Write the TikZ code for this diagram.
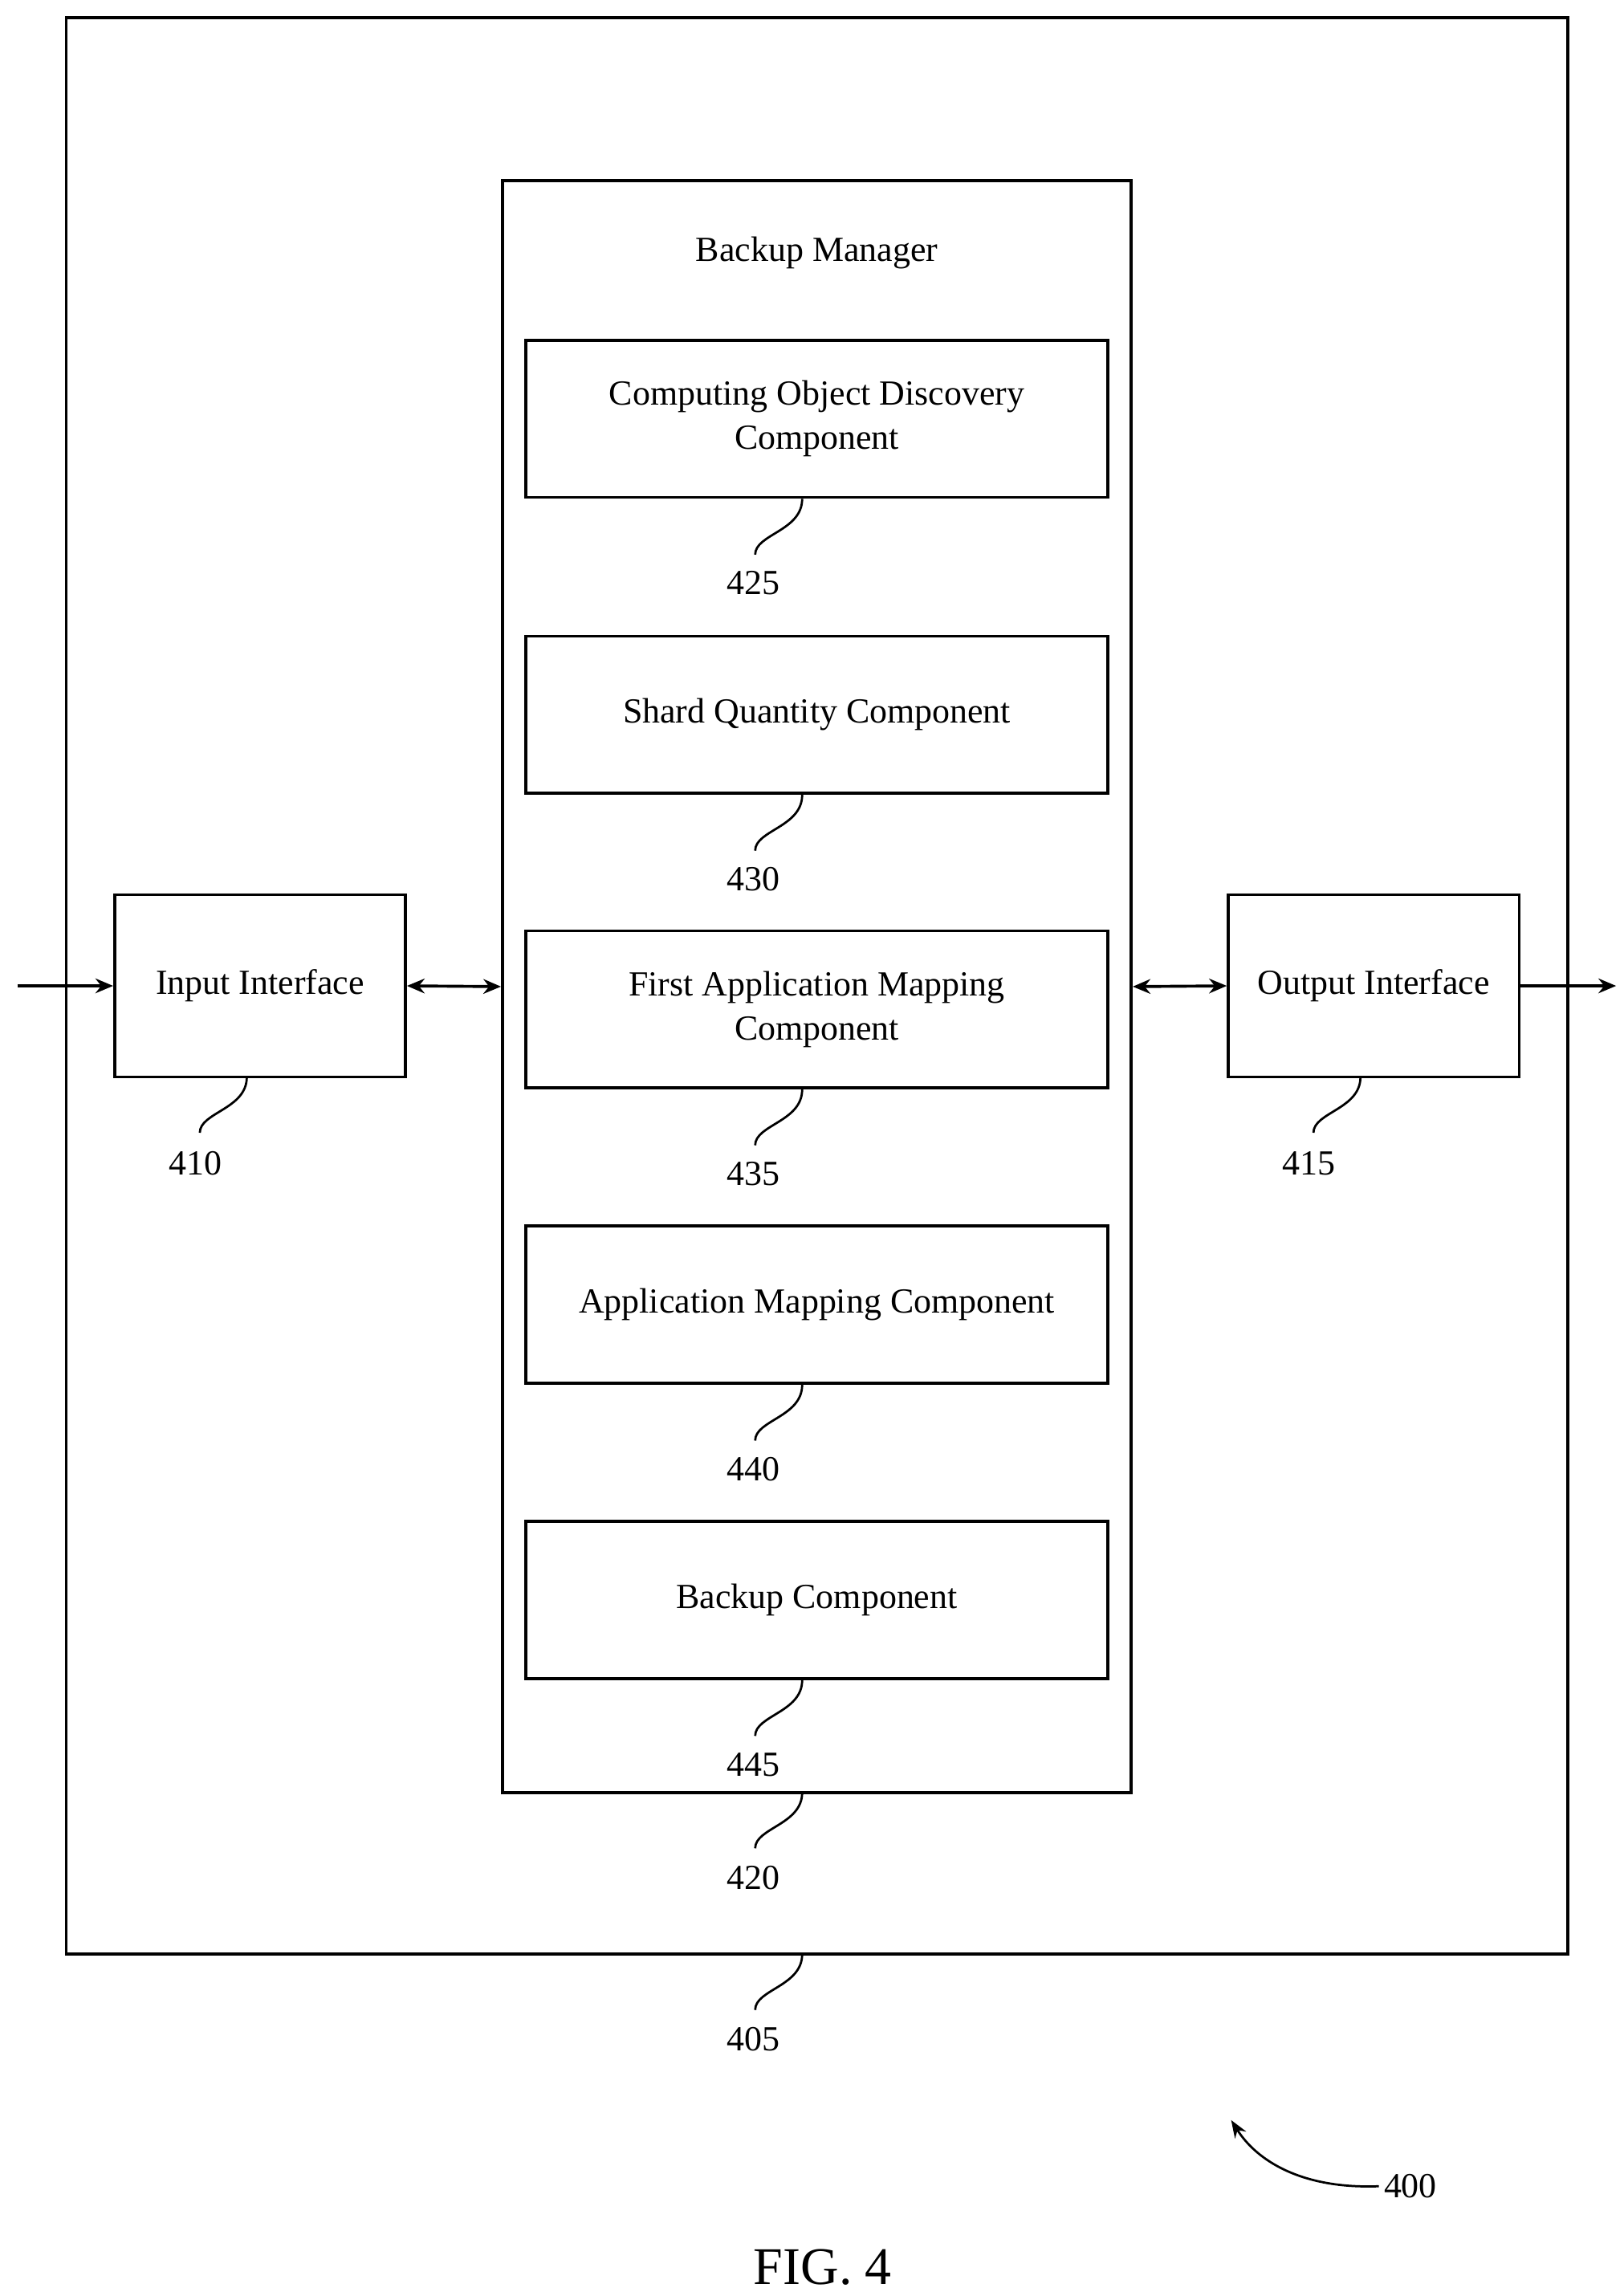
\documentclass[tikz,border=0pt]{standalone}
\usepackage{fontspec}
\setmainfont{Liberation Serif}
\usetikzlibrary{arrows.meta}
\begin{document}
\begin{tikzpicture}[x=1pt,y=-1pt,
  box/.style={draw,line width=2pt,inner sep=0pt,align=center,font=\fontsize{24}{30}\selectfont},
  lbl/.style={font=\fontsize{24}{28}\selectfont},
  arr/.style={line width=2pt,-{Stealth[length=12pt,width=10pt]}},
  darr/.style={line width=2pt,{Stealth[length=12pt,width=10pt]}-{Stealth[length=12pt,width=10pt]}},
  sq/.style={line width=1.5pt}]
\useasboundingbox (0,0) rectangle (1105,1560);
\node[box,minimum width=1022pt,minimum height=1318pt] (outer) at (556,671) {};
\node[box,minimum width=428pt,minimum height=1097pt] (bm) at (556,671.5) {};
\node[lbl] (bmt) at (556,172) {Backup Manager};
\foreach \n/\y/\t/\num in {c1/285/{Computing Object Discovery\\Component}/425,
  c2/486.5/{Shard Quantity Component}/430,
  c3/687/{First Application Mapping\\Component}/435,
  c4/888/{Application Mapping Component}/440,
  c5/1089/{Backup Component}/445}{
  \node[box,minimum width=396pt,minimum height=107pt] (\n) at (556,\y) {\t};
  \node[lbl] (\n l) at (513,\y+112) {\num};
  \draw[sq] (\n.south) ++(-10,0) .. controls +(0,22) and +(0,-14) .. +(-32,38);
}
\node[box,minimum width=198pt,minimum height=124pt] (in) at (177,671) {Input Interface};
\node[box,minimum width=198pt,minimum height=124pt] (out) at (935,671) {Output Interface};
\coordinate (l) at (12,671);
\coordinate (r) at (1100,671);
\draw[arr] (l) -- (in.west);
\draw[darr] (in.east) -- (bm.west);
\draw[darr] (bm.east) -- (out.west);
\draw[arr] (out.east) -- (r);
\node[lbl] (n410) at (133,792) {410};
\draw[sq] (168,733) .. controls +(0,22) and +(0,-14) .. +(-32,38);
\node[lbl] (n415) at (891,792) {415};
\draw[sq] (926,733) .. controls +(0,22) and +(0,-14) .. +(-32,38);
\node[lbl] (n420) at (513,1278) {420};
\draw[sq] (546,1220) .. controls +(0,22) and +(0,-14) .. +(-32,38);
\node[lbl] (n405) at (513,1388) {405};
\draw[sq] (546,1330) .. controls +(0,22) and +(0,-14) .. +(-32,38);
\node[lbl] (n400) at (960,1488) {400};
\coordinate (a400) at (838,1443);
\draw[line width=1.5pt,-{Stealth[length=12pt,width=9pt]}] (n400.west) .. controls (885,1490) and (855,1470) .. (a400);
\node[font=\fontsize{36}{40}\selectfont] (fig) at (560,1543) {FIG. 4};
\end{tikzpicture}
\end{document}
